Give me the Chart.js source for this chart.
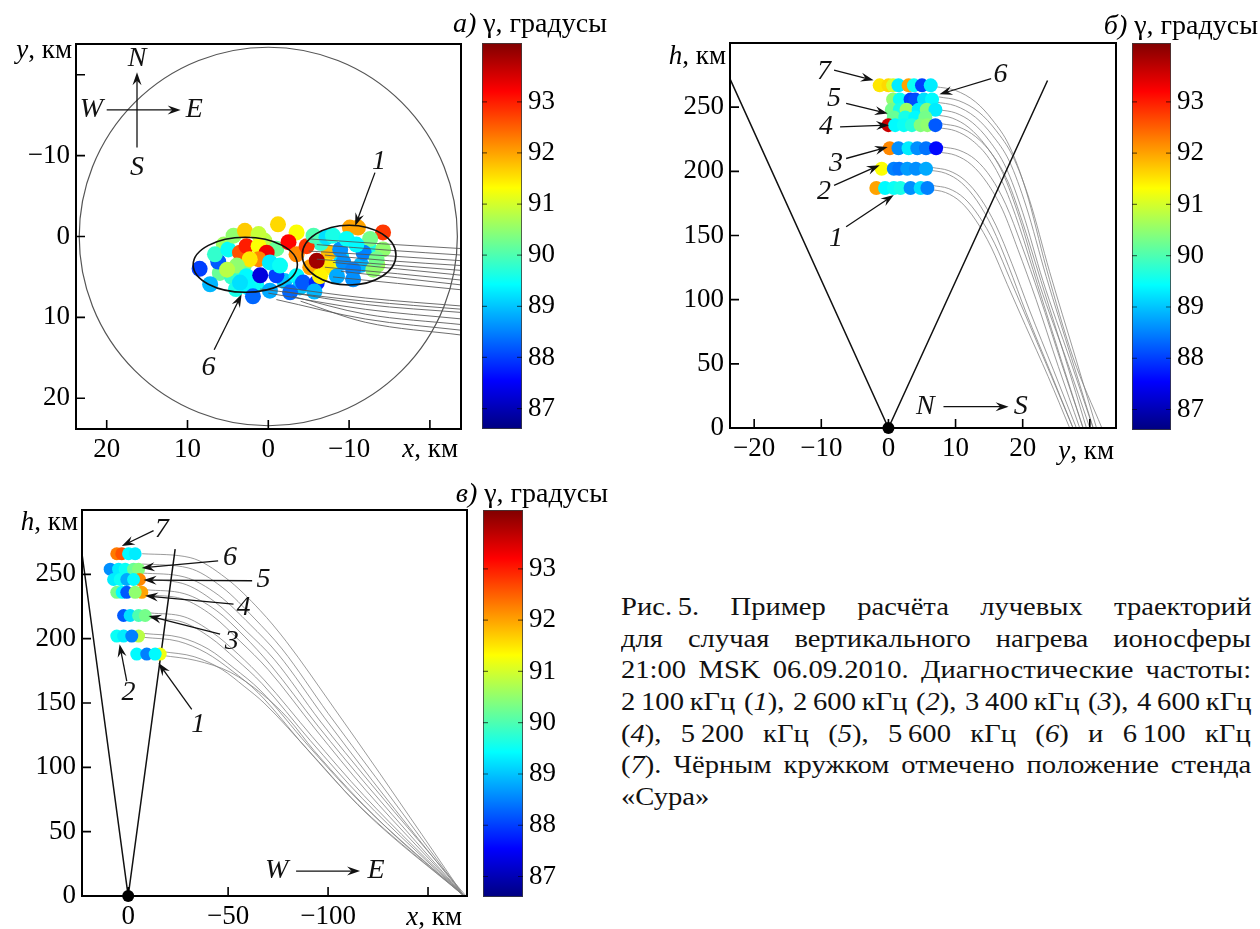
<!DOCTYPE html>
<html>
<head>
<meta charset="utf-8">
<script src="https://cdn.jsdelivr.net/npm/chart.js@4.4.1/dist/chart.umd.min.js"></script>
<style>
  body { margin: 0; background: #fff; width: 1260px; height: 929px; position: relative; overflow: hidden; }
  canvas { position: absolute; }
  #caption { position: absolute; left: 621px; top: 591px; width: 640px; font-family: "Liberation Serif", "DejaVu Serif", serif; font-size: 26px; line-height: 31.7px; color: #111; }
  #caption div { height: 31.7px; }
  #caption span { display: inline-block; white-space: nowrap; transform: scaleX(1.1); transform-origin: 0 50%; }
</style>
</head>
<body>
<canvas id="chartA" width="480" height="470" style="left:0;top:0"></canvas>
<canvas id="cbA" width="190" height="470" style="left:430px;top:0"></canvas>
<canvas id="chartB" width="490" height="470" style="left:640px;top:0"></canvas>
<canvas id="cbB" width="180" height="470" style="left:1080px;top:0"></canvas>
<canvas id="chartC" width="480" height="459" style="left:0;top:470px"></canvas>
<canvas id="cbC" width="190" height="459" style="left:430px;top:470px"></canvas>
<div id="caption">
  <div><span class="ln">Рис.&#8201;5. Пример расчёта лучевых траекторий</span></div>
  <div><span class="ln">для случая вертикального нагрева ионосферы</span></div>
  <div><span class="ln">21:00 MSK 06.09.2010. Диагностические частоты:</span></div>
  <div><span class="ln">2&#8239;100&#8201;кГц (<i>1</i>), 2&#8239;600&#8201;кГц (<i>2</i>), 3&#8239;400&#8201;кГц (<i>3</i>), 4&#8239;600&#8201;кГц</span></div>
  <div><span class="ln">(<i>4</i>), 5&#8239;200 кГц (<i>5</i>), 5&#8239;600 кГц (<i>6</i>) и 6&#8239;100 кГц</span></div>
  <div><span class="ln">(<i>7</i>). Чёрным кружком отмечено положение стенда</span></div>
  <div><span>«Сура»</span></div>
</div>
<script>
// colour scale (gamma, degrees)
const GAMMA_MIN = 86.6, GAMMA_MAX = 94.15;
const cbTicks = [87, 88, 89, 90, 91, 92, 93];

// panel a: ray end points in the horizontal plane, x and y in km
const aX = [6.0, 4.5, 5.5, 3.0, 1.5, 0.5, -1.0, 4.0, 2.5, -2.0, -9.0, -11.5, -12.5, -13.5, -7.5, -8.0, -6.5,
  8.5, 6.2, 7.2, 6.6, 4.95, 4.3, 2.9, 1.2, 3.5, 2.7, 1.2, 0.2, 1.2, 2.3, 3.9, 5.1, 2.7, 1.0, -1.0, -0.2, -1.45,
  3.5, 1.9, -0.2, -1.2, -3.5, -2.5, -3.5, -3.5, -3.9, -2.7, -4.75, -5.2, -4.3, -6.0, -7.2, -5.6, -7.2, -8.9,
  -10.1, -11.1, -14.2, -12.6, -14.2, -11.8, -9.3, -10.5, -13.0, -8.5, -10.5, -8.0, -9.7, -10.9, -13.4, -6.4, -5.7, -6.0];
const aY = [4.5, 5.0, 1.0, 3.5, 6.0, 0.5, 1.5, 6.5, 6.3, 5.5, 2.5, 3.5, 1.5, 3.5, 2.0, 4.0, 0.8,
  4.0, 3.1, 5.9, 2.2, 1.6, -0.1, -0.7, -0.3, 2.0, 1.2, 1.2, 2.0, 2.8, 2.8, 3.6, 4.1, 4.9, 4.8, 4.8, 3.2, 3.6,
  5.7, 7.4, 6.7, -1.5, -0.5, 0.7, 2.2, 4.9, 6.3, 6.9, 1.2, 3.8, 5.7, 5.7, 3.6, -0.1, 0.1, 1.6,
  -1.1, -1.1, -0.5, 0.3, 1.6, 2.0, 3.2, 4.1, 4.1, 4.9, 5.3, -0.1, 0.3, 1.0, 2.8, 4.9, 6.8, 3.0];
const aG = [90.2, 89.8, 90.6, 90.3, 89.5, 90.8, 90.2, 89.6, 89.4, 89.0, 89.2, 88.9, 89.6, 90.6, 91.8, 91.2, 89.8,
  88.0, 88.2, 88.9, 89.8, 89.5, 90.5, 91.7, 90.9, 92.6, 93.0, 91.3, 93.3, 92.2, 91.5, 90.5, 90.8, 89.4, 87.3, 88.0, 89.3, 89.5,
  89.2, 88.3, 88.8, 91.6, 91.3, 93.2, 92.2, 89.4, 89.0, 88.3, 92.8, 92.0, 88.2, 87.8, 91.5, 90.0, 89.2, 88.6,
  92.0, 92.0, 92.8, 90.3, 90.5, 88.5, 88.6, 88.5, 90.5, 88.8, 88.6, 89.6, 89.5, 89.4, 90.3, 91.4, 88.9, 93.9];

const raysA = [
  [[-5, 0.3], [-14, 0.9], [-24, 1.5]],
  [[-6, 1.0], [-15, 1.7], [-24, 2.3]],
  [[-5, 1.8], [-15, 2.4], [-24, 3.0]],
  [[-7, 2.3], [-15, 3.0], [-24, 3.6]],
  [[-6, 2.8], [-15, 3.5], [-24, 4.2]],
  [[-8, 3.2], [-16, 4.0], [-24, 4.8]],
  [[-7, 3.8], [-16, 4.6], [-24, 5.4]],
  [[-9, 4.3], [-16, 5.1], [-24, 6.0]],
  [[-8, 5.0], [-16, 5.8], [-24, 6.6]],
  [[-1, 6.2], [-12, 7.6], [-24, 8.6]],
  [[1, 6.5], [-12, 8.0], [-24, 9.0]],
  [[-2, 6.8], [-12, 8.4], [-24, 9.4]],
  [[0, 7.0], [-12, 9.0], [-24, 10.2]],
  [[-3, 7.4], [-12, 9.6], [-24, 10.9]],
  [[-1, 7.8], [-12, 10.2], [-24, 11.6]],
  [[-4, 8.0], [-12, 10.6], [-24, 12.2]]
];

// panel b: y (km), h (km), gamma
const bY = [-1.3, 0, 0.7, 1.5, 3.0, 3.8, 5.0, 6.3,
  0.7, 1.7, 3.3, 4.0, 5.3, 6.5,
  0.5, 1.7, 2.7, 4.5, 5.7, 7.0,
  0.8, 2.5, 4.0, 5.5,
  0.0, 1.0, 2.3, 3.5, 4.8, 5.8, 7.0,
  0.2, 1.5, 3.0, 4.3, 5.6, 7.1,
  -1.0, 0.8, 1.6, 2.8, 4.1, 5.6,
  -1.8, -0.5, 0.8, 1.8, 3.3, 4.8, 5.8];
const bH = [267, 267, 267, 267, 267, 267, 267, 267,
  256, 256, 256, 256, 256, 256,
  248, 248, 248, 248, 248, 248,
  242, 242, 242, 242,
  236, 236, 236, 236, 236, 236, 236,
  218, 218, 218, 218, 218, 218,
  202, 202, 202, 202, 202, 202,
  187, 187, 187, 187, 187, 187, 187];
const bG = [91.5, 91.6, 91.0, 89.3, 92.0, 89.5, 88.0, 89.3,
  90.5, 89.5, 88.0, 88.1, 89.2, 89.4,
  90.3, 89.6, 90.6, 89.3, 90.4, 89.3,
  90.2, 89.6, 89.4, 90.3,
  93.6, 89.4, 89.5, 89.7, 90.4, 90.5, 88.2,
  92.2, 88.6, 89.3, 88.6, 88.4, 87.6,
  91.3, 88.5, 88.4, 88.7, 88.6, 88.8,
  92.0, 89.4, 89.5, 89.6, 88.6, 89.2, 88.5];

const raysB = [
  [[7, 266], [10, 263], [13, 254], [15.5, 240], [18, 220], [20.5, 185], [23.5, 125], [27.5, 55], [31.8, 0]],
  [[7.5, 258], [10.5, 255], [13.5, 246], [16, 232], [18.5, 212], [21, 178], [24, 122], [27.8, 56], [31, 0]],
  [[7, 254], [10, 251], [13, 242], [15.5, 228], [18, 208], [20.5, 173], [23.5, 118], [27.3, 54], [30.5, 0]],
  [[7.5, 248], [10, 245.5], [12.5, 238], [15, 224], [17.5, 203], [20, 168], [23, 115], [27, 54], [30.5, 0]],
  [[7, 244], [9.5, 241.5], [12, 234], [14.5, 220], [17, 199], [19.5, 164], [22.5, 112], [26.6, 52], [30, 0]],
  [[8, 237], [10.5, 234.5], [13, 227], [15.5, 213], [17.8, 192], [20, 160], [22.7, 115], [26.3, 55], [29.5, 0]],
  [[7.5, 234], [10, 231.5], [12.5, 224], [15, 210], [17.2, 189], [19.5, 157], [22.2, 112], [25.8, 52], [29, 0]],
  [[8, 219], [10.5, 216.5], [13, 209], [15.3, 195], [17.5, 174], [19.8, 143], [22.5, 103], [25.8, 50], [29, 0]],
  [[7.5, 215], [10, 212.5], [12.4, 205], [14.7, 191], [17, 170], [19.3, 139], [22, 100], [25.3, 48], [28.5, 0]],
  [[6.5, 203], [9, 200.5], [11.4, 193], [13.7, 179], [16, 158], [18.4, 128], [21, 92], [24.6, 45], [28, 0]],
  [[6, 201], [8.5, 198.5], [10.9, 191], [13.2, 177], [15.5, 156], [17.9, 126], [20.5, 90], [24.1, 44], [27.5, 0]],
  [[6.5, 189], [9, 186.5], [11.3, 179], [13.5, 165], [15.8, 144], [18.2, 115], [20.9, 82], [24.3, 40], [27.5, 0]],
  [[6, 186], [8.5, 183.5], [10.8, 176], [13, 162], [15.3, 141], [17.7, 112], [20.4, 80], [23.8, 40], [27, 0]]
];
const beamB = [[-23.6, 272], [0, 0], [23.7, 270.8]];

// panel c: x (km), h (km), gamma
const cX = [5.7, 3.2, -0.2, -3.5,
  9, 4.8, 1.5, -2.7, -5.2,
  -5.7, 7.3, 4, 0.7, -2.7,
  -6.8, 5.7, 3, 0.7, -3.5,
  2.3, -1, -5.2, -8.5,
  5.7, 2.3, -5.2, -1.8,
  -16, -4.3, -9.3, -13.5];
const cH = [266, 266, 266, 266,
  254, 254, 254, 254, 254,
  246, 246, 246, 246, 246,
  236, 236, 236, 236, 236,
  218, 218, 218, 218,
  202, 202, 202, 202,
  188, 188, 188, 188];
const cG = [92.3, 92.6, 89.4, 89.3,
  88.6, 89.3, 89.5, 90.2, 90.4,
  92.2, 89.3, 89.5, 88.8, 89.4,
  92.0, 90.3, 89.4, 88.2, 90.5,
  88.2, 89.2, 90.0, 90.3,
  89.5, 89.3, 90.8, 88.5,
  91.2, 89.4, 88.5, 89.4];

const raysC = [
  [[-7, 266], [-31, 263], [-49, 247], [-66, 222], [-79, 198], [-103, 146], [-126, 95], [-168, 0]],
  [[-7, 258], [-30, 255], [-47, 240], [-63, 216], [-77, 192], [-100, 142], [-124, 92], [-168, 0]],
  [[-7, 251], [-28, 248], [-45, 234], [-61, 211], [-75, 188], [-98, 139], [-122, 90], [-168, 0]],
  [[-7, 246], [-27, 243], [-43, 229], [-59, 206], [-73, 184], [-96, 136], [-121, 88], [-169, 0]],
  [[-9, 238], [-28, 235], [-44, 222], [-58, 202], [-71, 180], [-95, 132], [-120, 85], [-168, 0]],
  [[-9, 234], [-27, 231], [-42, 218], [-56, 198], [-70, 176], [-94, 129], [-119, 82], [-168, 0]],
  [[-11, 220], [-28, 217], [-42, 205], [-55, 188], [-68, 168], [-92, 124], [-118, 78], [-168, 0]],
  [[-10, 216], [-27, 213], [-41, 201], [-54, 184], [-67, 165], [-91, 121], [-117, 76], [-168, 0]],
  [[-8, 204], [-26, 201], [-40, 192], [-53, 177], [-66, 160], [-90, 117], [-116, 73], [-168, 0]],
  [[-8, 201], [-25, 198], [-39, 189], [-52, 175], [-65, 158], [-89, 115], [-115, 71], [-168, 0]],
  [[-17, 190], [-33, 186], [-47, 176], [-58, 163], [-68, 150], [-92, 110], [-118, 66], [-168, 0]],
  [[-17, 187], [-34, 183], [-51, 174], [-67, 157], [-80, 138], [-93, 113], [-126, 58], [-168, 0]]
];
const beamC = [[23.1, 266], [0, 0], [-23.5, 269.6]];

const FONT = '"Liberation Serif", "DejaVu Serif", serif';
const tickFont = { family: FONT, size: 27 };

function jet(g) {
  const t = Math.min(1, Math.max(0, (g - GAMMA_MIN) / (GAMMA_MAX - GAMMA_MIN)));
  const c = v => Math.round(255 * Math.min(1, Math.max(0, 1.5 - Math.abs(4 * t - v))));
  return 'rgb(' + c(3) + ',' + c(2) + ',' + c(1) + ')';
}

function fmt(hidden) {
  return v => hidden.includes(v) ? '' : (v < 0 ? '\u2212' + Math.abs(v) : String(v));
}

function pts(xs, ys) { return xs.map((x, i) => ({ x, y: ys[i] })); }

function rayDatasets(rays, color) {
  return rays.map(r => ({
    data: r.map(([x, y]) => ({ x, y })), showLine: true, pointRadius: 0,
    borderColor: color, borderWidth: 1, cubicInterpolationMode: 'monotone', order: 3
  }));
}

function mixedText(ctx, parts, right, mid, size) {
  ctx.textBaseline = 'middle';
  ctx.textAlign = 'left';
  const w = parts.map(([t, it]) => { ctx.font = (it ? 'italic ' : '') + size + 'px ' + FONT; return ctx.measureText(t).width; });
  let x = right - w.reduce((s, v) => s + v, 0);
  parts.forEach(([t, it], i) => {
    ctx.font = (it ? 'italic ' : '') + size + 'px ' + FONT;
    ctx.fillText(t, x, mid);
    x += w[i];
  });
}

function arrow(ctx, x1, y1, x2, y2) {
  const a = Math.atan2(y2 - y1, x2 - x1), L = 13, W = 4.5;
  const ca = Math.cos(a), sa = Math.sin(a);
  ctx.beginPath(); ctx.moveTo(x1, y1); ctx.lineTo(x2 - 8 * ca, y2 - 8 * sa); ctx.stroke();
  ctx.beginPath();
  ctx.moveTo(x2, y2);
  ctx.lineTo(x2 - L * ca + W * sa, y2 - L * sa - W * ca);
  ctx.lineTo(x2 - 0.65 * L * ca, y2 - 0.65 * L * sa);
  ctx.lineTo(x2 - L * ca - W * sa, y2 - L * sa + W * ca);
  ctx.closePath(); ctx.fill();
}

function decoPlugin(d) {
  return {
    id: 'deco',
    afterDatasetsDraw(chart) {
      const { ctx, chartArea: a, scales: { x, y } } = chart;
      ctx.save();
      ctx.beginPath(); ctx.rect(a.left, a.top, a.right - a.left, a.bottom - a.top); ctx.clip();
      (d.ellipses || []).forEach(e => {
        const cx = x.getPixelForValue(e.c[0]), cy = y.getPixelForValue(e.c[1]);
        const rx = Math.abs(x.getPixelForValue(e.c[0] + e.r[0]) - cx);
        const ry = Math.abs(y.getPixelForValue(e.c[1] + e.r[1]) - cy);
        ctx.strokeStyle = e.color; ctx.lineWidth = e.w;
        ctx.beginPath(); ctx.ellipse(cx, cy, rx, ry, 0, 0, Math.PI * 2); ctx.stroke();
      });
      ctx.strokeStyle = '#111'; ctx.fillStyle = '#111'; ctx.lineWidth = 1.3;
      (d.arrows || []).forEach(([x1, y1, x2, y2]) =>
        arrow(ctx, x.getPixelForValue(x1), y.getPixelForValue(y1), x.getPixelForValue(x2), y.getPixelForValue(y2)));
      ctx.font = 'italic 28px ' + FONT; ctx.textAlign = 'center'; ctx.textBaseline = 'middle';
      (d.labels || []).forEach(([t, lx, ly]) => ctx.fillText(t, x.getPixelForValue(lx), y.getPixelForValue(ly)));
      ctx.restore();
    },
    afterDraw(chart) {
      const { ctx, chartArea: a, scales: { x, y } } = chart;
      ctx.save();
      ctx.strokeStyle = '#000'; ctx.lineWidth = 2;
      ctx.strokeRect(a.left, a.top, a.right - a.left, a.bottom - a.top);
      ctx.lineWidth = 1.6;
      ctx.beginPath();
      x.ticks.forEach(t => {
        const p = x.getPixelForValue(t.value);
        if (p > a.left + 3 && p < a.right - 3) { ctx.moveTo(p, a.bottom); ctx.lineTo(p, a.bottom - 9); }
      });
      y.ticks.forEach(t => {
        const p = y.getPixelForValue(t.value);
        if (p > a.top + 3 && p < a.bottom - 3) { ctx.moveTo(a.left, p); ctx.lineTo(a.left + 9, p); }
      });
      ctx.stroke();
      ctx.fillStyle = '#000';
      mixedText(ctx, d.yTitle, a.left + d.yPos[0], a.top + d.yPos[1], 27);
      mixedText(ctx, d.xTitle, a.right + d.xPos[0], a.bottom + d.xPos[1], 27);
      ctx.restore();
    }
  };
}

function panel(id, datasets, s, d) {
  return new Chart(document.getElementById(id), {
    type: 'scatter',
    data: { datasets },
    options: {
      responsive: false, animation: false, events: [],
      layout: { padding: s.pad },
      plugins: { legend: { display: false }, tooltip: { enabled: false } },
      scales: {
        x: {
          type: 'linear', min: s.x[0], max: s.x[1], reverse: s.xRev,
          ticks: { stepSize: s.xStep, includeBounds: false, autoSkip: false, maxRotation: 0, font: tickFont, color: '#000', padding: 5, callback: fmt(s.xHide) },
          grid: { display: false, drawTicks: false }, border: { display: false },
          afterFit: sc => { sc.height = s.xH; }
        },
        y: {
          type: 'linear', min: s.y[0], max: s.y[1], reverse: s.yRev,
          ticks: { stepSize: s.yStep, includeBounds: false, autoSkip: false, font: tickFont, color: '#000', padding: 6, callback: fmt(s.yHide) },
          grid: { display: false, drawTicks: false }, border: { display: false },
          afterFit: sc => { sc.width = s.yW; }
        }
      }
    },
    plugins: [decoPlugin(d)]
  });
}

function colorbar(id, s) {
  return new Chart(document.getElementById(id), {
    type: 'bar',
    data: {
      labels: ['γ'],
      datasets: [{
        data: [[GAMMA_MIN, GAMMA_MAX]], barPercentage: 1, categoryPercentage: 1, borderWidth: 0,
        backgroundColor: c => {
          const a = c.chart.chartArea;
          if (!a) return '#888';
          const g = c.chart.ctx.createLinearGradient(0, a.bottom, 0, a.top);
          for (let i = 0; i <= 40; i++) g.addColorStop(i / 40, jet(GAMMA_MIN + i / 40 * (GAMMA_MAX - GAMMA_MIN)));
          return g;
        }
      }]
    },
    options: {
      responsive: false, animation: false, events: [],
      layout: { padding: s.pad },
      plugins: { legend: { display: false }, tooltip: { enabled: false } },
      scales: {
        x: { display: false },
        y: {
          position: 'right', min: GAMMA_MIN, max: GAMMA_MAX,
          afterBuildTicks: sc => { sc.ticks = cbTicks.map(v => ({ value: v })); },
          ticks: { font: tickFont, color: '#000', padding: 6 },
          grid: { display: false, drawTicks: false }, border: { display: false },
          afterFit: sc => { sc.width = s.yW; }
        }
      }
    },
    plugins: [{
      id: 'cbdeco',
      afterDraw(chart) {
        const { ctx, chartArea: a, scales: { y } } = chart;
        ctx.save();
        ctx.strokeStyle = 'rgba(60,60,60,0.8)'; ctx.lineWidth = 1;
        ctx.strokeRect(a.left + 0.5, a.top + 0.5, a.right - a.left - 1, a.bottom - a.top - 1);
        ctx.strokeStyle = 'rgba(0,0,0,0.55)'; ctx.lineWidth = 1.2;
        ctx.beginPath();
        cbTicks.forEach(v => {
          const p = y.getPixelForValue(v);
          ctx.moveTo(a.left, p); ctx.lineTo(a.left + 5, p);
          ctx.moveTo(a.right - 5, p); ctx.lineTo(a.right, p);
        });
        ctx.stroke();
        ctx.fillStyle = '#000';
        mixedText(ctx, s.title, s.titleAt[0], s.titleAt[1], 28);
        ctx.restore();
      }
    }]
  });
}

// panel a
panel('chartA', [
  { data: pts(aX, aY), pointBackgroundColor: aG.map(jet), pointBorderWidth: 0, pointRadius: 8, order: 4 },
  ...rayDatasets(raysA, 'rgba(85,85,85,0.85)').map(r => Object.assign(r, { order: 2 }))
], {
  pad: { left: 0, top: 44, right: 19, bottom: 0 }, xH: 41, yW: 76,
  x: [-23.85, 23.8], xRev: true, xStep: 10, xHide: [-20],
  y: [-23.8, 23.8], yRev: true, yStep: 10, yHide: [-20]
}, {
  ellipses: [
    { c: [0, 0], r: [23.4, 23.4], color: '#555', w: 1.2 },
    { c: [2.85, 3.5], r: [6.45, 3.4], color: '#111', w: 1.6 },
    { c: [-10, 2.3], r: [5.8, 3.7], color: '#111', w: 1.6 }
  ],
  arrows: [[-13.2, -7.9, -10.75, -1.3], [6.7, 14, 3.3, 7.15], [16.25, -11, 16.25, -20.3], [20, -15.65, 10.85, -15.65]],
  labels: [['1', -13.7, -9.2], ['6', 7.4, 16.2], ['N', 16.25, -22], ['S', 16.25, -8.55], ['W', 21.9, -15.65], ['E', 9.15, -15.65]],
  yTitle: [['y', true], [', км', false]], yPos: [-4, 7],
  xTitle: [['x', true], [', км', false]], xPos: [-3, 21]
});
colorbar('cbA', { pad: { left: 52, top: 43, right: 0, bottom: 41 }, yW: 98,
  title: [['а)', true], [' γ, градусы', false]], titleAt: [177, 25] });

// panel b
panel('chartB', [
  ...rayDatasets(raysB, 'rgba(130,130,130,0.8)'),
  { data: beamB.map(([x, y]) => ({ x, y })), showLine: true, pointRadius: 0, borderColor: '#111', borderWidth: 1.5, order: 2 },
  { data: pts(bY, bH), pointBackgroundColor: bG.map(jet), pointBorderWidth: 0, pointRadius: 7, order: 1 },
  { data: [{ x: 0, y: 0 }], pointBackgroundColor: '#000', pointBorderWidth: 0, pointRadius: 6, clip: false, order: 0 }
], {
  pad: { left: 0, top: 43, right: 14, bottom: 0 }, xH: 42, yW: 90,
  x: [-23.6, 33.9], xRev: false, xStep: 10, xHide: [30],
  y: [0, 300], yRev: false, yStep: 50, yHide: [300]
}, {
  arrows: [[-8.1, 278.8, -2.2, 271], [15.3, 272.3, 7.6, 260], [-6.3, 252.9, -0.1, 245], [-7.2, 234.7, 0.1, 236],
    [-6.3, 210, -0.1, 219], [-8.1, 189, -1.3, 204.8], [-6.3, 156.8, 0.8, 181.5], [8.2, 16.6, 17.9, 16.6]],
  labels: [['7', -9.6, 277.5], ['6', 16.7, 275], ['5', -8.1, 256.8], ['4', -9.3, 234.7], ['3', -7.8, 206],
    ['2', -9.6, 184], ['1', -7.8, 147.7], ['N', 5.5, 16.6], ['S', 19.7, 16.6]],
  yTitle: [['h', true], [', км', false]], yPos: [-4, 14],
  xTitle: [['y', true], [', км', false]], xPos: [-2, 24]
});
colorbar('cbB', { pad: { left: 52, top: 43, right: 0, bottom: 40 }, yW: 89,
  title: [['б)', true], [' γ, градусы', false]], titleAt: [178, 27] });

// panel c
panel('chartC', [
  ...rayDatasets(raysC, 'rgba(130,130,130,0.8)'),
  { data: beamC.map(([x, y]) => ({ x, y })), showLine: true, pointRadius: 0, borderColor: '#111', borderWidth: 1.5, order: 2 },
  { data: pts(cX, cH), pointBackgroundColor: cG.map(jet), pointBorderWidth: 0, pointRadius: 6.5, order: 1 },
  { data: [{ x: 0, y: 0 }], pointBackgroundColor: '#000', pointBorderWidth: 0, pointRadius: 6, clip: false, order: 0 }
], {
  pad: { left: 0, top: 40, right: 13, bottom: 0 }, xH: 33, yW: 82,
  x: [-169.5, 23.1], xRev: true, xStep: 50, xHide: [-150],
  y: [0, 300], yRev: false, yStep: 50, yHide: [300]
}, {
  arrows: [[-12.7, 284, 3.2, 272], [-45, 260.5, -6.8, 255], [-62, 245, -7.7, 245.5], [-52.7, 226.8, -8.5, 233.3],
    [-46, 203.5, -10.2, 217.7], [0.7, 167, 4.3, 195.7], [-31.8, 145, -15.2, 181], [-84, 19.4, -116, 19.4]],
  labels: [['7', -16.8, 285], ['6', -51, 263], ['5', -67.7, 246], ['4', -57.7, 224], ['3', -51.8, 198],
    ['2', -0.2, 158], ['1', -35, 133.5], ['W', -74.3, 19.4], ['E', -124, 19.4]],
  yTitle: [['h', true], [', км', false]], yPos: [-4, 13],
  xTitle: [['x', true], [', км', false]], xPos: [-5, 22]
});
colorbar('cbC', { pad: { left: 53, top: 40, right: 0, bottom: 32 }, yW: 97,
  title: [['в)', true], [' γ, градусы', false]], titleAt: [178, 25] });

// justify caption lines to a fixed width (spans are stretched by scaleX 1.1)
const CAPTION_W = 630 / 1.1;
document.querySelectorAll('#caption .ln').forEach(el => {
  const w = el.offsetWidth;
  const spaces = (el.textContent.match(/ /g) || []).length;
  if (w > CAPTION_W) el.style.letterSpacing = ((CAPTION_W - w) / el.textContent.length) + 'px';
  else if (spaces) el.style.wordSpacing = ((CAPTION_W - w) / spaces) + 'px';
});
</script>
</body>
</html>
